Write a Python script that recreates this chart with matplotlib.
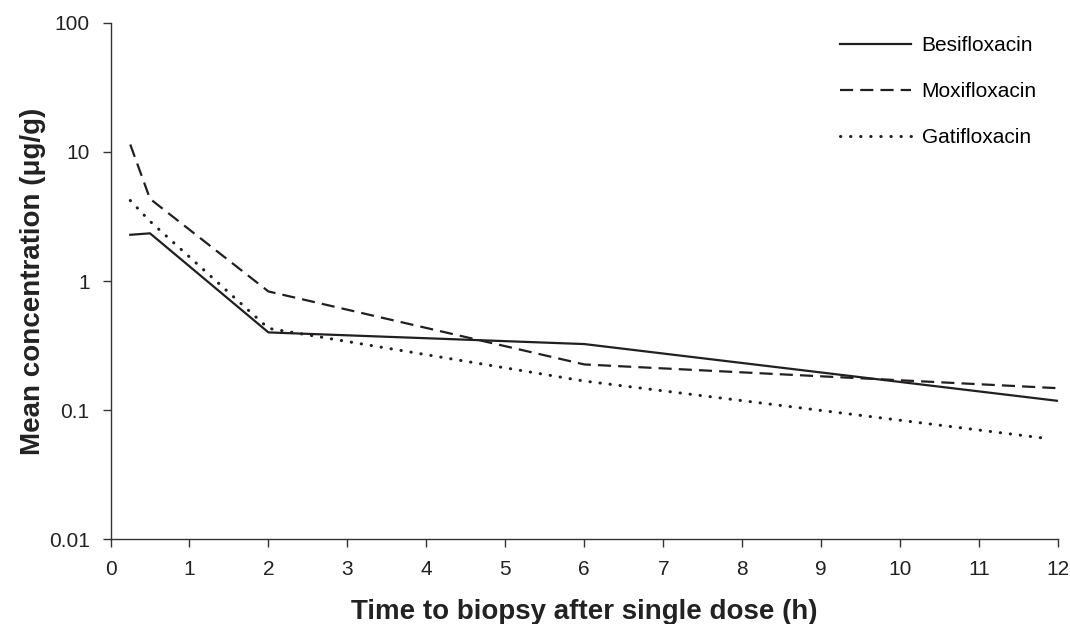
import matplotlib.pyplot as plt

plt.rcParams['font.family'] = ['Liberation Sans', 'DejaVu Sans']

# time points (h) and mean concentrations (ug/g)
time_h = [0.25, 0.5, 2, 6, 12]
besifloxacin = [2.28, 2.34, 0.40, 0.325, 0.118]
moxifloxacin = [11.4, 4.33, 0.83, 0.226, 0.148]
gatifloxacin = [4.2, 2.9, 0.43, 0.168, 0.061]
gati_time = [0.25, 0.5, 2, 6, 11.8]

x_ticks = list(range(0, 13))
y_ticks = [0.01, 0.1, 1, 10, 100]
y_labels = ['0.01', '0.1', '1', '10', '100']

fig = plt.figure(figsize=(10.70, 6.24), dpi=100)
ax = fig.add_axes([0.1033, 0.1357, 0.8855, 0.8279])

ink = '#231f20'
ax.plot(time_h, besifloxacin, color=ink, lw=1.6, label='Besifloxacin')
ax.plot(time_h, moxifloxacin, color=ink, lw=1.6,
        dashes=(5.9, 3.2), label='Moxifloxacin')
ax.plot(gati_time, gatifloxacin, color=ink, lw=2.2,
        dashes=(0.1, 3.2), dash_capstyle='round', label='Gatifloxacin')

ax.set_yscale('log')
ax.set_xlim(0, 12)
ax.set_ylim(0.01, 100)
ax.set_xticks(x_ticks)
ax.set_xticklabels([str(t) for t in x_ticks])
ax.set_yticks(y_ticks)
ax.set_yticklabels(y_labels)
ax.yaxis.set_minor_locator(plt.NullLocator())

for side in ['top', 'right']:
    ax.spines[side].set_visible(False)
for side in ['left', 'bottom']:
    ax.spines[side].set_color('#333333')
    ax.spines[side].set_linewidth(1.0)
ax.tick_params(direction='out', length=6, width=1.0, color='#333333',
               labelsize=15, labelcolor='#222222', pad=9)

ax.set_xlabel('Time to biopsy after single dose (h)', fontsize=20,
              fontweight='bold', color='#222222', labelpad=14)
ax.set_ylabel('Mean concentration (\u03bcg/g)', fontsize=20,
              fontweight='bold', color='#222222', labelpad=2)

ax.legend(loc='upper left', frameon=False, fontsize=15, handlelength=3.4,
          labelspacing=1.3, handletextpad=0.5, borderaxespad=0,
          bbox_to_anchor=(832 / 1070, 1 - 28 / 624),
          bbox_transform=fig.transFigure)

fig.savefig('out.png', dpi=100)
